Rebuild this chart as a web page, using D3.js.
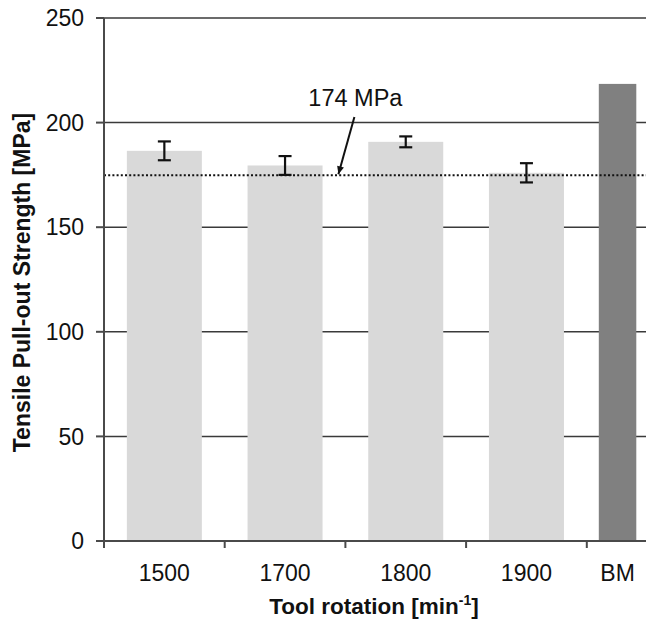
<!DOCTYPE html>
<html>
<head>
<meta charset="utf-8">
<script src="https://cdn.jsdelivr.net/npm/d3@7"></script>
<style>
  html, body { margin: 0; padding: 0; background: #fff; }
  svg { display: block; font-family: "Liberation Sans", Arial, sans-serif; }
</style>
</head>
<body>
<div id="chart"></div>
<script>
// data
const categories = ['1500', '1700', '1800', '1900', 'BM'];
const strength = [186.5, 179.5, 190.8, 176, 218.5];
const errors = [4.5, 4.5, 2.6, 4.6, 0];
const yTicks = [0, 50, 100, 150, 200, 250];
const refValue = 174.8;
const refLabel = '174 MPa';

const width = 646, height = 620;
const plotLeft = 104, plotTop = 18, plotBottom = 541;
const step = 120.7;

const svg = d3.select('#chart')
  .append('svg')
  .attr('width', width)
  .attr('height', height);

const x = d3.scaleBand()
  .domain(categories)
  .range([plotLeft, plotLeft + step * categories.length])
  .padding(0);

const y = d3.scaleLinear()
  .domain([0, 250])
  .range([plotBottom, plotTop]);

const barW = 75;
const barX = c => c === 'BM' ? x(c) + 12 : x(c) + (x.bandwidth() - barW) / 2;
const barWidth = c => c === 'BM' ? barW / 2 : barW;

// gridlines
svg.append('g')
  .selectAll('line')
  .data(yTicks.filter(d => d > 0))
  .join('line')
  .attr('x1', plotLeft).attr('x2', width)
  .attr('y1', d => y(d)).attr('y2', d => y(d))
  .attr('stroke', '#3a3a3a')
  .attr('stroke-width', 1.5);

// bars
svg.append('g')
  .selectAll('rect')
  .data(categories)
  .join('rect')
  .attr('x', d => barX(d))
  .attr('width', d => barWidth(d))
  .attr('y', (d, i) => y(strength[i]))
  .attr('height', (d, i) => y(0) - y(strength[i]))
  .attr('fill', d => d === 'BM' ? '#808080' : '#d9d9d9');

// reference dotted line
svg.append('line')
  .attr('x1', plotLeft).attr('x2', width)
  .attr('y1', y(refValue)).attr('y2', y(refValue))
  .attr('stroke', '#111')
  .attr('stroke-width', 2)
  .attr('stroke-dasharray', '2,2.2');

// error bars
const eb = svg.append('g')
  .attr('stroke', '#111')
  .attr('stroke-width', 2.2);
categories.forEach((c, i) => {
  if (!errors[i]) return;
  const cx = barX(c) + barWidth(c) / 2;
  const hi = y(strength[i] + errors[i]);
  const lo = y(strength[i] - errors[i]);
  eb.append('line').attr('x1', cx).attr('x2', cx).attr('y1', hi).attr('y2', lo);
  eb.append('line').attr('x1', cx - 6.5).attr('x2', cx + 6.5).attr('y1', hi).attr('y2', hi);
  eb.append('line').attr('x1', cx - 6.5).attr('x2', cx + 6.5).attr('y1', lo).attr('y2', lo);
});

// axes
const axis = svg.append('g')
  .attr('stroke', '#4a4a4a')
  .attr('stroke-width', 2);
axis.append('line')
  .attr('x1', plotLeft).attr('x2', plotLeft)
  .attr('y1', plotTop).attr('y2', plotBottom + 7);
axis.append('line')
  .attr('x1', plotLeft - 8).attr('x2', width)
  .attr('y1', plotBottom).attr('y2', plotBottom);
axis.selectAll('.ytick')
  .data(yTicks)
  .join('line')
  .attr('class', 'ytick')
  .attr('x1', plotLeft - 8).attr('x2', plotLeft)
  .attr('y1', d => y(d)).attr('y2', d => y(d));
axis.selectAll('.xtick')
  .data(categories.slice(1))
  .join('line')
  .attr('class', 'xtick')
  .attr('x1', d => x(d)).attr('x2', d => x(d))
  .attr('y1', plotBottom).attr('y2', plotBottom + 7);

// tick labels
svg.append('g')
  .selectAll('text')
  .data(yTicks)
  .join('text')
  .attr('x', plotLeft - 20)
  .attr('y', d => y(d))
  .attr('dy', '0.36em')
  .attr('text-anchor', 'end')
  .attr('font-size', 23)
  .attr('fill', '#111')
  .text(d => d);

svg.append('g')
  .selectAll('text')
  .data(categories)
  .join('text')
  .attr('x', d => barX(d) + barWidth(d) / 2)
  .attr('y', plotBottom + 40)
  .attr('text-anchor', 'middle')
  .attr('font-size', 23)
  .attr('fill', '#111')
  .text(d => d);

// axis titles
const xt = svg.append('text')
  .attr('x', 374)
  .attr('y', 614)
  .attr('text-anchor', 'middle')
  .attr('font-size', 22.5)
  .attr('font-weight', 'bold')
  .attr('fill', '#111');
xt.append('tspan').text('Tool rotation [min');
xt.append('tspan').attr('dy', -9).attr('font-size', 14).text('-1');
xt.append('tspan').attr('dy', 9).text(']');

svg.append('text')
  .attr('transform', `translate(30, ${(plotTop + plotBottom) / 2 + 3}) rotate(-90)`)
  .attr('text-anchor', 'middle')
  .attr('font-size', 23)
  .attr('font-weight', 'bold')
  .attr('fill', '#111')
  .text('Tensile Pull-out Strength [MPa]');

// annotation
const bx = x(categories[2]);
svg.append('text')
  .attr('x', bx + 10)
  .attr('y', 106)
  .attr('text-anchor', 'middle')
  .attr('font-size', 23.5)
  .attr('fill', '#111')
  .text(refLabel);

const tipX = bx - 7, tipY = y(refValue) - 1;
const tailX = bx + 9, tailY = 117;
svg.append('line')
  .attr('x1', tailX).attr('y1', tailY)
  .attr('x2', tipX).attr('y2', tipY)
  .attr('stroke', '#111')
  .attr('stroke-width', 2);
const ang = Math.atan2(tipY - tailY, tipX - tailX);
const ah = 8, aw = 3.5;
const p = [
  [tipX, tipY],
  [tipX - ah * Math.cos(ang) + aw * Math.sin(ang), tipY - ah * Math.sin(ang) - aw * Math.cos(ang)],
  [tipX - ah * Math.cos(ang) - aw * Math.sin(ang), tipY - ah * Math.sin(ang) + aw * Math.cos(ang)]
];
svg.append('path')
  .attr('d', d3.line()(p) + 'Z')
  .attr('fill', '#111');
</script>
</body>
</html>
